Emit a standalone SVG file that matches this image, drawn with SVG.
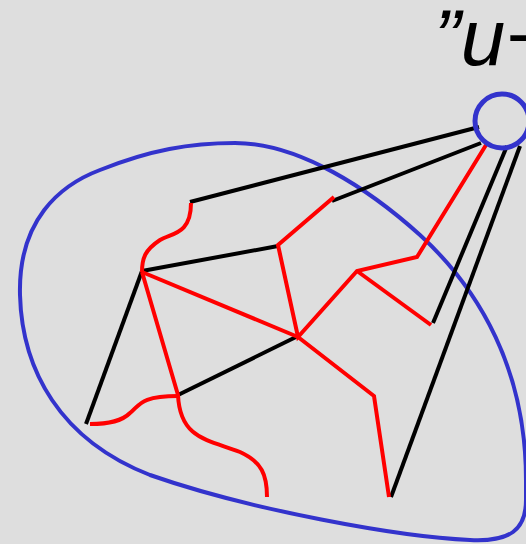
<svg xmlns="http://www.w3.org/2000/svg" width="526" height="544" viewBox="0 0 526 544">
<style>
.bk{stroke:#000;stroke-width:4;fill:none;stroke-linecap:butt}
.rd{stroke:#f00;stroke-width:4;fill:none;stroke-linejoin:miter}
.bl{stroke:#3333cc;stroke-width:4;fill:none}
.lbl{font-family:"Liberation Sans",Arial,sans-serif;font-style:italic;font-size:80px;fill:#000}
</style>
<rect width="526" height="544" fill="#dedede"/>
<g id="region">
<path class="bl" d="M235,143 C300,143 370,190 420,235 C480,290 526,370 526,480 L526,500 C526,530 510,542 470,540 C400,537 250,510 150,475 C60,440 22,370 20,295 C18,220 60,185 100,170 C150,150 190,143 235,143 Z"/>
</g>
<g id="connectors">
<path class="bk" d="M190,202 L479,127"/>
<path class="bk" d="M332,201 L481,143"/>
<path class="bk" d="M433,323 L507,146"/>
<path class="bk" d="M391,497 L520,146"/>
<path class="bk" d="M142,271 L278,246"/>
<path class="bk" d="M142,271 L86,424"/>
<path class="bk" d="M178,395 L298,336"/>
<path class="rd" d="M191,203 C191,235 171,233 160,240 C145,250 142,258 142,272"/>
<path class="rd" d="M142,272 L298,337"/>
<path class="rd" d="M142,272 L178,395 C180,440 210,440 240,452 C262,462 267,475 267,497"/>
<path class="rd" d="M178,396 C140,396 140,405 130,413 C122,421 110,424 90,424"/>
<path class="rd" d="M334,197 L278,245 L298,337 L357,271 L417,257 L486,145"/>
<path class="rd" d="M357,271 L431,325"/>
<path class="rd" d="M298,337 L374,396 L389,497"/>
</g>
<g id="node-u">
<circle cx="502" cy="121" r="27" fill="none" stroke="#3333cc" stroke-width="5"/>
<text class="lbl" x="434" y="65">”u+</text>
</g>
</svg>
